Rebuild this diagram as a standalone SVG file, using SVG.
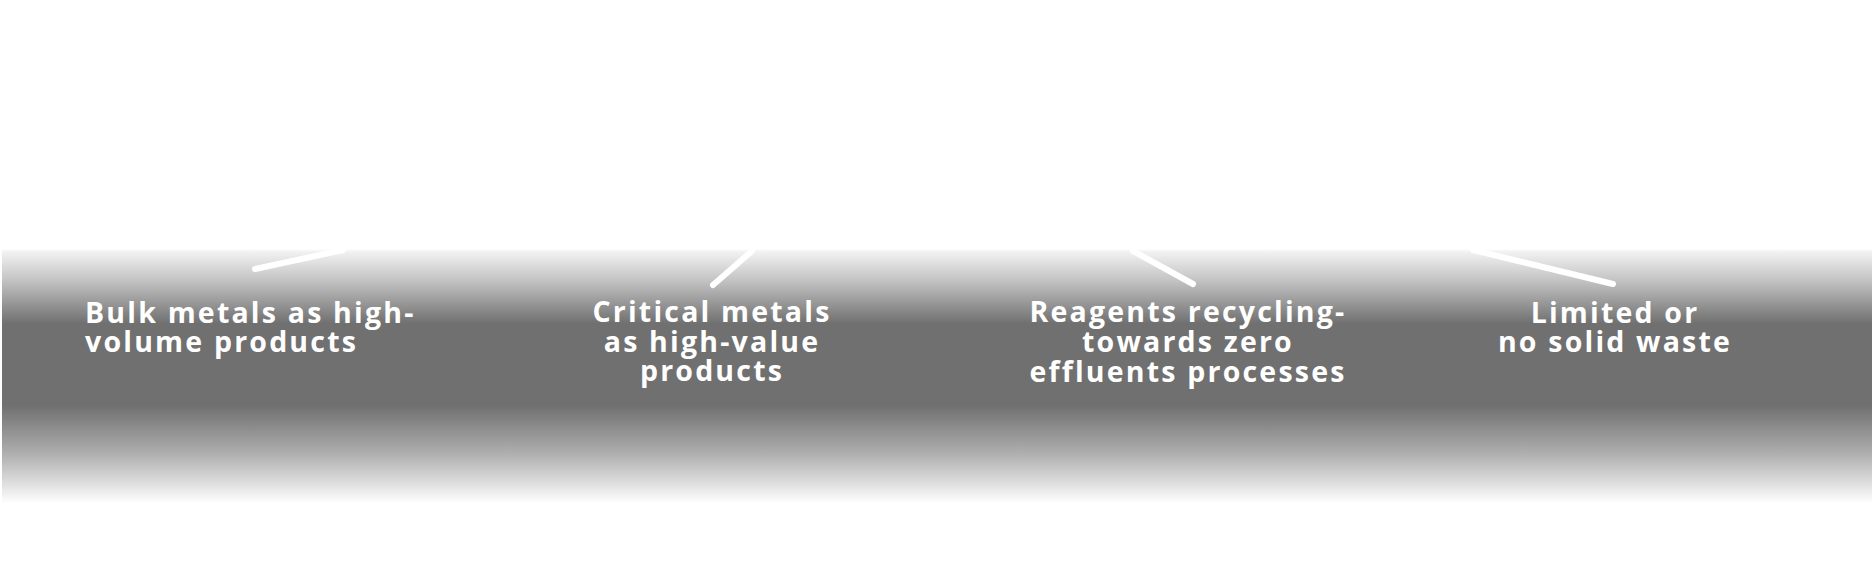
<svg xmlns="http://www.w3.org/2000/svg" width="1872" height="576" viewBox="0 0 1872 576">
  <style>
    .lbl { font-family: "Open Sans", "Liberation Sans", sans-serif; font-weight: 700; font-size: 28.5px; fill: #ffffff; letter-spacing: 2.2px; }
    .mid { text-anchor: middle; }
    .conn { stroke: #ffffff; stroke-width: 6; stroke-linecap: round; fill: none; }
  </style>
  <defs>
    <linearGradient id="band" x1="0" y1="0" x2="0" y2="1">
      <stop offset="0" stop-color="#ffffff"/>
      <stop offset="0.01" stop-color="#f2f2f2"/>
      <stop offset="0.12" stop-color="#c4c4c4"/>
      <stop offset="0.29" stop-color="#707070"/>
      <stop offset="0.61" stop-color="#707070"/>
      <stop offset="0.80" stop-color="#b0b0b0"/>
      <stop offset="0.99" stop-color="#ffffff"/>
    </linearGradient>
  </defs>
  <rect width="1872" height="576" fill="#ffffff"/>
  <rect id="band-bg" x="2" y="249" width="1870" height="257" fill="url(#band)"/>
  <g id="connectors">
    <line class="conn" x1="255" y1="269" x2="343" y2="250"/>
    <line class="conn" x1="713" y1="285" x2="752" y2="251"/>
    <line class="conn" x1="1193" y1="284" x2="1133" y2="251"/>
    <line class="conn" x1="1613" y1="284" x2="1473" y2="250"/>
  </g>
  <g id="node-bulk-metals">
    <text class="lbl" x="85" y="323">Bulk metals as high-</text>
    <text class="lbl" x="85" y="352">volume products</text>
  </g>
  <g id="node-critical-metals">
    <text class="lbl mid" x="712" y="322">Critical metals</text>
    <text class="lbl mid" x="712" y="352">as high-value</text>
    <text class="lbl mid" x="712" y="381">products</text>
  </g>
  <g id="node-reagents">
    <text class="lbl mid" x="1188" y="322">Reagents recycling-</text>
    <text class="lbl mid" x="1188" y="352">towards zero</text>
    <text class="lbl mid" x="1188" y="382">effluents processes</text>
  </g>
  <g id="node-solid-waste">
    <text class="lbl mid" x="1615" y="323">Limited or</text>
    <text class="lbl mid" x="1615" y="352">no solid waste</text>
  </g>
</svg>
